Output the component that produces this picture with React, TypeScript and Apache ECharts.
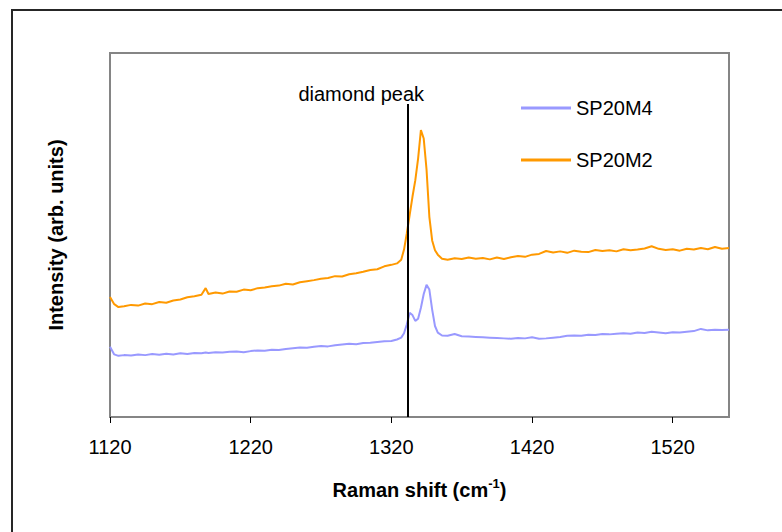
import React, { useEffect, useRef } from "react";
import * as echarts from "echarts";

// Raman shift (cm-1) sample positions shared by both spectra
const shift = [
  1120, 1123, 1126, 1130, 1135, 1140, 1145, 1150, 1155, 1160, 1165, 1170, 1175, 1180, 1185,
  1188,
  1190, 1195, 1200, 1205, 1210, 1215, 1220, 1225, 1230, 1235, 1240, 1245, 1250, 1255, 1260,
  1265, 1270, 1275, 1280, 1285, 1290, 1295, 1300, 1305, 1310, 1315, 1320,
  1324, 1327,
  1329, 1331, 1333, 1335, 1337, 1339, 1341, 1343, 1345, 1347, 1349, 1351, 1353,
  1356,
  1360, 1365, 1370, 1375, 1380, 1385, 1390, 1395, 1400, 1405, 1410, 1415, 1420, 1425, 1430,
  1435, 1440, 1445, 1450, 1455, 1460, 1465, 1470, 1475, 1480, 1485, 1490, 1495, 1500, 1505,
  1510, 1515, 1520, 1525, 1530, 1535, 1540, 1545, 1550, 1555, 1560,
];

// Intensity, arbitrary units
const sp20m4 = [
  19.3, 17.2, 16.8, 17.0, 16.9, 17.2, 17.0, 17.3, 17.1, 17.4, 17.2, 17.5, 17.3, 17.6, 17.5,
  17.7,
  17.6, 17.8, 17.7, 17.9, 18.0, 17.8, 18.1, 18.3, 18.2, 18.5, 18.4, 18.7, 18.9, 19.1, 19.0,
  19.3, 19.5, 19.4, 19.7, 19.9, 20.1, 20.0, 20.3, 20.4, 20.6, 20.8, 20.9,
  21.3, 21.8,
  23.0, 25.5, 28.6, 28.0, 26.4, 27.0, 30.0, 33.8, 36.3, 35.0, 29.5, 25.0, 23.2,
  22.4,
  22.3, 22.8, 22.2, 22.1, 22.0, 21.9, 21.8, 21.7, 21.6, 21.5, 21.7, 21.6, 21.9, 21.5, 21.6,
  21.8, 22.0, 22.3, 22.4, 22.3, 22.6, 22.5, 22.8, 22.7, 22.9, 23.0, 22.9, 23.2, 23.1, 23.4,
  23.2, 23.0, 23.3, 23.2, 23.4, 23.6, 24.2, 23.8, 24.0, 23.9, 24.0,
];

const sp20m2 = [
  33.0, 31.0, 30.2, 30.4, 30.8, 30.6, 31.2, 31.0, 31.6, 31.4, 32.0, 32.3, 32.9, 33.2, 33.6,
  35.4,
  33.8, 34.2, 33.9, 34.5, 34.4, 35.0, 34.8, 35.4, 35.6, 35.9, 36.1, 36.6, 36.4, 37.0, 37.3,
  37.6, 38.0, 38.2, 38.7, 38.6, 39.2, 39.5, 39.9, 40.4, 40.6, 41.4, 41.8,
  42.2, 43.2,
  46.0, 50.5, 55.5, 60.5, 65.0, 71.0, 78.8, 76.5, 68.0, 55.0, 48.5, 45.8, 44.6,
  43.5,
  43.2, 43.6, 43.4, 43.8, 43.5, 43.7, 43.3, 43.8, 43.4, 43.9, 44.2, 44.0, 44.6, 44.8, 45.6,
  45.2, 45.5, 45.1, 45.7, 45.4, 45.3, 45.9, 45.6, 45.8, 45.5, 46.1, 45.8, 46.0, 46.3, 46.9,
  46.2, 45.9, 46.1, 45.7, 46.2, 46.0, 46.4, 46.1, 46.7, 46.2, 46.4,
];

const xTicks = [1120, 1220, 1320, 1420, 1520];
const diamondPeak = 1332;
const diamondLineTop = 86;

const FONT = "Liberation Sans, Arial, sans-serif";

export default function App() {
  const ref = useRef<HTMLDivElement>(null);

  useEffect(() => {
    if (!ref.current) return;
    const chart = echarts.init(ref.current, undefined, { renderer: "svg" });
    chart.setOption({
      animation: false,
      backgroundColor: "#ffffff",
      textStyle: { fontFamily: FONT },
      graphic: [
        {
          type: "rect",
          shape: { x: 12, y: 10, width: 820, height: 580 },
          style: { fill: "none", stroke: "#262626", lineWidth: 2 },
          silent: true,
        },
      ],
      grid: {
        left: 110,
        top: 53,
        width: 619,
        height: 364,
        show: true,
        borderColor: "#858585",
        borderWidth: 2,
        backgroundColor: "transparent",
      },
      legend: {
        orient: "vertical",
        left: 516,
        top: 93,
        padding: 5,
        icon: "rect",
        itemWidth: 50,
        itemHeight: 3,
        itemGap: 32,
        textStyle: { fontFamily: FONT, fontSize: 20, color: "#000" },
        data: ["SP20M4", "SP20M2"],
      },
      xAxis: {
        type: "value",
        min: 1120,
        max: 1560,
        name: "{a|Raman shift (cm}{s|-1}{a|)}",
        nameLocation: "middle",
        nameGap: 60,
        nameTextStyle: {
          rich: {
            a: { fontFamily: FONT, fontSize: 20, fontWeight: "bold", color: "#000" },
            s: {
              fontFamily: FONT,
              fontSize: 13,
              fontWeight: "bold",
              color: "#000",
              padding: [0, 0, 12, 0],
            },
          },
        },
        axisLine: { show: false },
        axisTick: {
          show: true,
          customValues: xTicks,
          length: 6,
          lineStyle: { color: "#000", width: 1 },
        },
        axisLabel: {
          show: true,
          customValues: xTicks,
          formatter: (v: number) => String(v),
          margin: 20,
          fontFamily: FONT,
          fontSize: 20,
          color: "#000",
        },
        splitLine: { show: false },
      },
      yAxis: {
        type: "value",
        min: 0,
        max: 100,
        name: "Intensity (arb. units)",
        nameLocation: "middle",
        nameRotate: 90,
        nameGap: 44,
        nameTextStyle: { fontFamily: FONT, fontSize: 20, fontWeight: "bold", color: "#000" },
        axisLine: { show: false },
        axisTick: { show: false },
        axisLabel: { show: false },
        splitLine: { show: false },
      },
      series: [
        {
          name: "SP20M4",
          type: "line",
          symbol: "none",
          data: shift.map((x, i) => [x, sp20m4[i]]),
          lineStyle: { color: "#9999ff", width: 2 },
          itemStyle: { color: "#9999ff" },
          markLine: {
            silent: true,
            symbol: "none",
            label: { show: false },
            lineStyle: { color: "#000", width: 2, type: "solid" },
            data: [
              [
                { coord: [diamondPeak, 0] },
                { coord: [diamondPeak, diamondLineTop] },
              ],
            ],
          },
          markPoint: {
            silent: true,
            symbol: "circle",
            symbolSize: 0,
            itemStyle: { color: "transparent" },
            data: [
              {
                coord: [diamondPeak, diamondLineTop],
                label: {
                  show: true,
                  position: "top",
                  distance: 0,
                  offset: [-47, 0],
                  formatter: "diamond peak",
                  fontFamily: FONT,
                  fontSize: 20,
                  color: "#000",
                },
              },
            ],
          },
        },
        {
          name: "SP20M2",
          type: "line",
          symbol: "none",
          data: shift.map((x, i) => [x, sp20m2[i]]),
          lineStyle: { color: "#ff9900", width: 2 },
          itemStyle: { color: "#ff9900" },
        },
      ],
    });
    return () => chart.dispose();
  }, []);

  return (
    <div
      ref={ref}
      style={{ position: "fixed", left: 0, top: 0, width: 782, height: 532 }}
    />
  );
}
